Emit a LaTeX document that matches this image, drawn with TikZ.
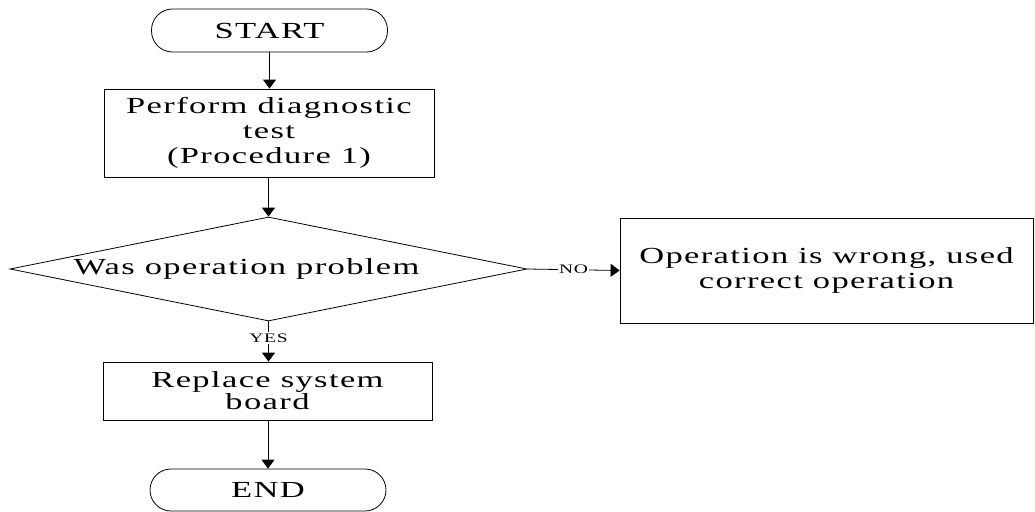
\documentclass[tikz,border=0pt]{standalone}
\usepackage{fontspec}
\setmainfont{Liberation Serif}[FakeStretch=1.5,LetterSpace=6]
\usetikzlibrary{shapes.geometric,arrows.meta}

\begin{document}
\begin{tikzpicture}[x=1pt,y=-1pt,line width=0.8pt,
    every node/.style={font=\fontsize{23}{25}\selectfont},
    terminal/.style={draw,rounded corners=21pt,inner sep=0pt,minimum width=236pt,minimum height=43pt},
    process/.style={draw,align=center,inner sep=0pt},
    decision/.style={draw,diamond,aspect=4.97,inner sep=0pt,minimum width=517pt,minimum height=104pt},
    answer/.style={fill=white,inner sep=1.5pt,font=\fontsize{13}{13}\selectfont},
    flow/.style={-{Triangle[length=9pt,width=13pt]}}]
    \useasboundingbox (0,0) rectangle (1035,511);
    % nodes
    \node [terminal] (start) at (269.5,30.5) {START};
    \node [process,minimum width=330pt,minimum height=88pt] (test) at (269,133)
        {Perform diagnostic\\test\\(Procedure 1)};
    \node [decision] (oper) at (268.5,269) {Was operation problem\hspace*{44pt}};
    \node [process,minimum width=413pt,minimum height=105pt] (wrong) at (826.5,270.5)
        {Operation is wrong, used\\correct operation};
    \node [process,minimum width=329pt,minimum height=58pt,font=\fontsize{23}{22}\selectfont] (board) at (267.5,391)
        {Replace system\\board};
    \node [terminal,minimum height=42pt] (end) at (268,490) {END};
    % connectors
    \draw [flow] (start) -- (start |- test.north);
    \draw [flow] (test.south -| oper.north) -- (oper);
    \draw [flow] (oper.east) -- node [answer] {NO} (wrong.west);
    \draw [flow] (oper.south) -- node [answer,pos=0.42] {YES} (oper.south |- board.north);
    \draw [flow] (board.south -| end.north) -- (end);
\end{tikzpicture}
\end{document}
